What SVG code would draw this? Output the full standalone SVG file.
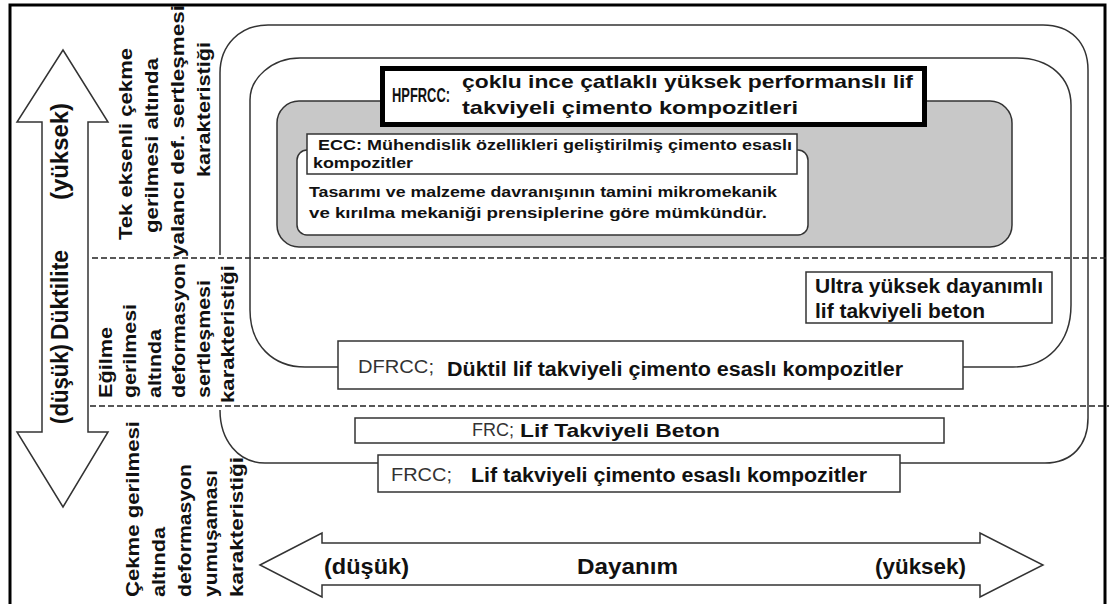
<svg xmlns="http://www.w3.org/2000/svg" width="1109" height="604" viewBox="0 0 1109 604">
<style>
text{font-family:"Liberation Sans",Arial,sans-serif;fill:#111}
.b{font-weight:bold}
.n{font-weight:normal;fill:#333}
.box{fill:#fff;stroke:#333;stroke-width:1.5}
.ln{fill:none;stroke:#333;stroke-width:1.5}
.dash{fill:none;stroke:#222;stroke-width:1.6;stroke-dasharray:6 3}
.arrow{fill:#fff;stroke:#333;stroke-width:1.5}
.side{font-size:18px;font-weight:bold}
</style>
<rect x="0" y="0" width="1109" height="604" fill="#fff"/>
<rect x="10" y="5" width="1095" height="640" fill="none" stroke="#000" stroke-width="3"/>

<g id="connectors">
  <line class="dash" x1="92" y1="258" x2="1109" y2="258"/>
  <line class="dash" x1="90" y1="406" x2="1109" y2="406"/>
  <path id="outer-frame" class="ln" d="M220 255 L220 73 C220 45 240 25 268 25 L1043 25 C1070 25 1088 42 1088 70 L1088 418 C1088 445 1072 463 1045 463 L265 463 C238 463 220 440 220 410"/>
  <path id="second-frame" class="ln" d="M250 310 C250 345 273 367 305 367 L1013 367 C1047 367 1071 343 1071 305 L1071 105 C1071 78 1050 58 1017 58 L300 58 C272 58 250 78 250 100 Z"/>
</g>

<g id="ductility-arrow">
  <polygon class="arrow" points="63,50 108,122 88,122 88,432 108,432 63,507 17,432 42,432 42,122 17,122"/>
  <text class="b" font-size="23" transform="translate(68,200) rotate(-90)" textLength="97" lengthAdjust="spacingAndGlyphs">(yüksek)</text>
  <text class="b" font-size="23" transform="translate(68,340) rotate(-90)" textLength="90" lengthAdjust="spacingAndGlyphs">Düktilite</text>
  <text class="b" font-size="23" transform="translate(68,424) rotate(-90)" textLength="80" lengthAdjust="spacingAndGlyphs">(düşük)</text>
</g>

<g id="strength-arrow">
  <polygon class="arrow" points="260,565 322,533 322,543 980,543 980,533 1043,565 980,597 980,585 322,585 322,597"/>
  <text class="b" font-size="22" x="324" y="574" textLength="85" lengthAdjust="spacingAndGlyphs">(düşük)</text>
  <text class="b" font-size="22" x="577" y="574" textLength="101" lengthAdjust="spacingAndGlyphs">Dayanım</text>
  <text class="b" font-size="22" x="875" y="574" textLength="91" lengthAdjust="spacingAndGlyphs">(yüksek)</text>
</g>

<g id="label-tensile-hardening">
  <text class="side" transform="translate(132,240) rotate(-90)" textLength="192" lengthAdjust="spacingAndGlyphs">Tek eksenli çekme</text>
  <text class="side" transform="translate(158,233) rotate(-90)" textLength="175" lengthAdjust="spacingAndGlyphs">gerilmesi altında</text>
  <text class="side" transform="translate(184,257) rotate(-90)" textLength="252" lengthAdjust="spacingAndGlyphs">yalancı def. sertleşmesi</text>
  <text class="side" transform="translate(210,177) rotate(-90)" textLength="135" lengthAdjust="spacingAndGlyphs">karakteristiği</text>
</g>

<g id="label-bending-hardening">
  <text class="side" transform="translate(112,398) rotate(-90)" textLength="71" lengthAdjust="spacingAndGlyphs">Eğilme</text>
  <text class="side" transform="translate(136,398) rotate(-90)" textLength="94" lengthAdjust="spacingAndGlyphs">gerilmesi</text>
  <text class="side" transform="translate(161,398) rotate(-90)" textLength="69" lengthAdjust="spacingAndGlyphs">altında</text>
  <text class="side" transform="translate(185,398) rotate(-90)" textLength="135" lengthAdjust="spacingAndGlyphs">deformasyon</text>
  <text class="side" transform="translate(210,398) rotate(-90)" textLength="118" lengthAdjust="spacingAndGlyphs">sertleşmesi</text>
  <text class="side" transform="translate(234,403) rotate(-90)" textLength="138" lengthAdjust="spacingAndGlyphs">karakteristiği</text>
</g>

<g id="label-tensile-softening">
  <text class="side" transform="translate(139,597) rotate(-90)" textLength="176" lengthAdjust="spacingAndGlyphs">Çekme gerilmesi</text>
  <text class="side" transform="translate(165,597) rotate(-90)" textLength="70" lengthAdjust="spacingAndGlyphs">altında</text>
  <text class="side" transform="translate(191,597) rotate(-90)" textLength="133" lengthAdjust="spacingAndGlyphs">deformasyon</text>
  <text class="side" transform="translate(217,597) rotate(-90)" textLength="127" lengthAdjust="spacingAndGlyphs">yumuşaması</text>
  <text class="side" transform="translate(243,597) rotate(-90)" textLength="140" lengthAdjust="spacingAndGlyphs">karakteristiği</text>
</g>

<g id="ecc-group">
  <rect x="277" y="101" width="735" height="146" rx="22" fill="#c8c8c8" stroke="#333" stroke-width="1.5"/>
</g>

<g id="ecc-description">
  <rect class="box" x="297" y="150" width="511" height="85" rx="10"/>
  <text class="b" font-size="15" x="309" y="197" textLength="468" lengthAdjust="spacingAndGlyphs">Tasarımı ve malzeme davranışının tamini mikromekanik</text>
  <text class="b" font-size="15" x="309" y="218" textLength="458" lengthAdjust="spacingAndGlyphs">ve kırılma mekaniği prensiplerine göre mümkündür.</text>
</g>

<g id="ecc">
  <rect class="box" x="307" y="134" width="490" height="40"/>
  <text class="b" font-size="15" x="318" y="150" textLength="474" lengthAdjust="spacingAndGlyphs">ECC: Mühendislik özellikleri geliştirilmiş çimento esaslı</text>
  <text class="b" font-size="15" x="313" y="168" textLength="100" lengthAdjust="spacingAndGlyphs">kompozitler</text>
</g>

<g id="hpfrcc">
  <rect x="382.5" y="68.5" width="542" height="56" fill="#fff" stroke="#000" stroke-width="5"/>
  <text class="b" font-size="20" x="392" y="102" textLength="58" lengthAdjust="spacingAndGlyphs">HPFRCC:</text>
  <text class="b" font-size="19" x="462" y="88" textLength="451" lengthAdjust="spacingAndGlyphs">çoklu ince çatlaklı yüksek performanslı lif</text>
  <text class="b" font-size="19" x="462" y="114" textLength="336" lengthAdjust="spacingAndGlyphs">takviyeli çimento kompozitleri</text>
</g>

<g id="uhpfrc">
  <rect class="box" x="806" y="272" width="246" height="51"/>
  <text class="b" font-size="20" x="815" y="293" textLength="228" lengthAdjust="spacingAndGlyphs">Ultra yüksek dayanımlı</text>
  <text class="b" font-size="20" x="815" y="318" textLength="170" lengthAdjust="spacingAndGlyphs">lif takviyeli beton</text>
</g>

<g id="dfrcc">
  <rect class="box" x="338" y="341" width="625" height="48"/>
  <text class="n" font-size="19" x="358" y="373" textLength="76" lengthAdjust="spacingAndGlyphs">DFRCC;</text>
  <text class="b" font-size="20" x="447" y="376" textLength="456" lengthAdjust="spacingAndGlyphs">Düktil lif takviyeli çimento esaslı kompozitler</text>
</g>

<g id="frc">
  <rect class="box" x="355" y="418" width="589" height="25"/>
  <text class="n" font-size="19" x="472" y="436" textLength="42" lengthAdjust="spacingAndGlyphs">FRC;</text>
  <text class="b" font-size="19" x="520" y="437" textLength="200" lengthAdjust="spacingAndGlyphs">Lif Takviyeli Beton</text>
</g>

<g id="frcc">
  <rect class="box" x="378" y="455" width="522" height="37"/>
  <text class="n" font-size="19" x="391" y="481" textLength="61" lengthAdjust="spacingAndGlyphs">FRCC;</text>
  <text class="b" font-size="20" x="471" y="482" textLength="396" lengthAdjust="spacingAndGlyphs">Lif takviyeli çimento esaslı kompozitler</text>
</g>
</svg>
